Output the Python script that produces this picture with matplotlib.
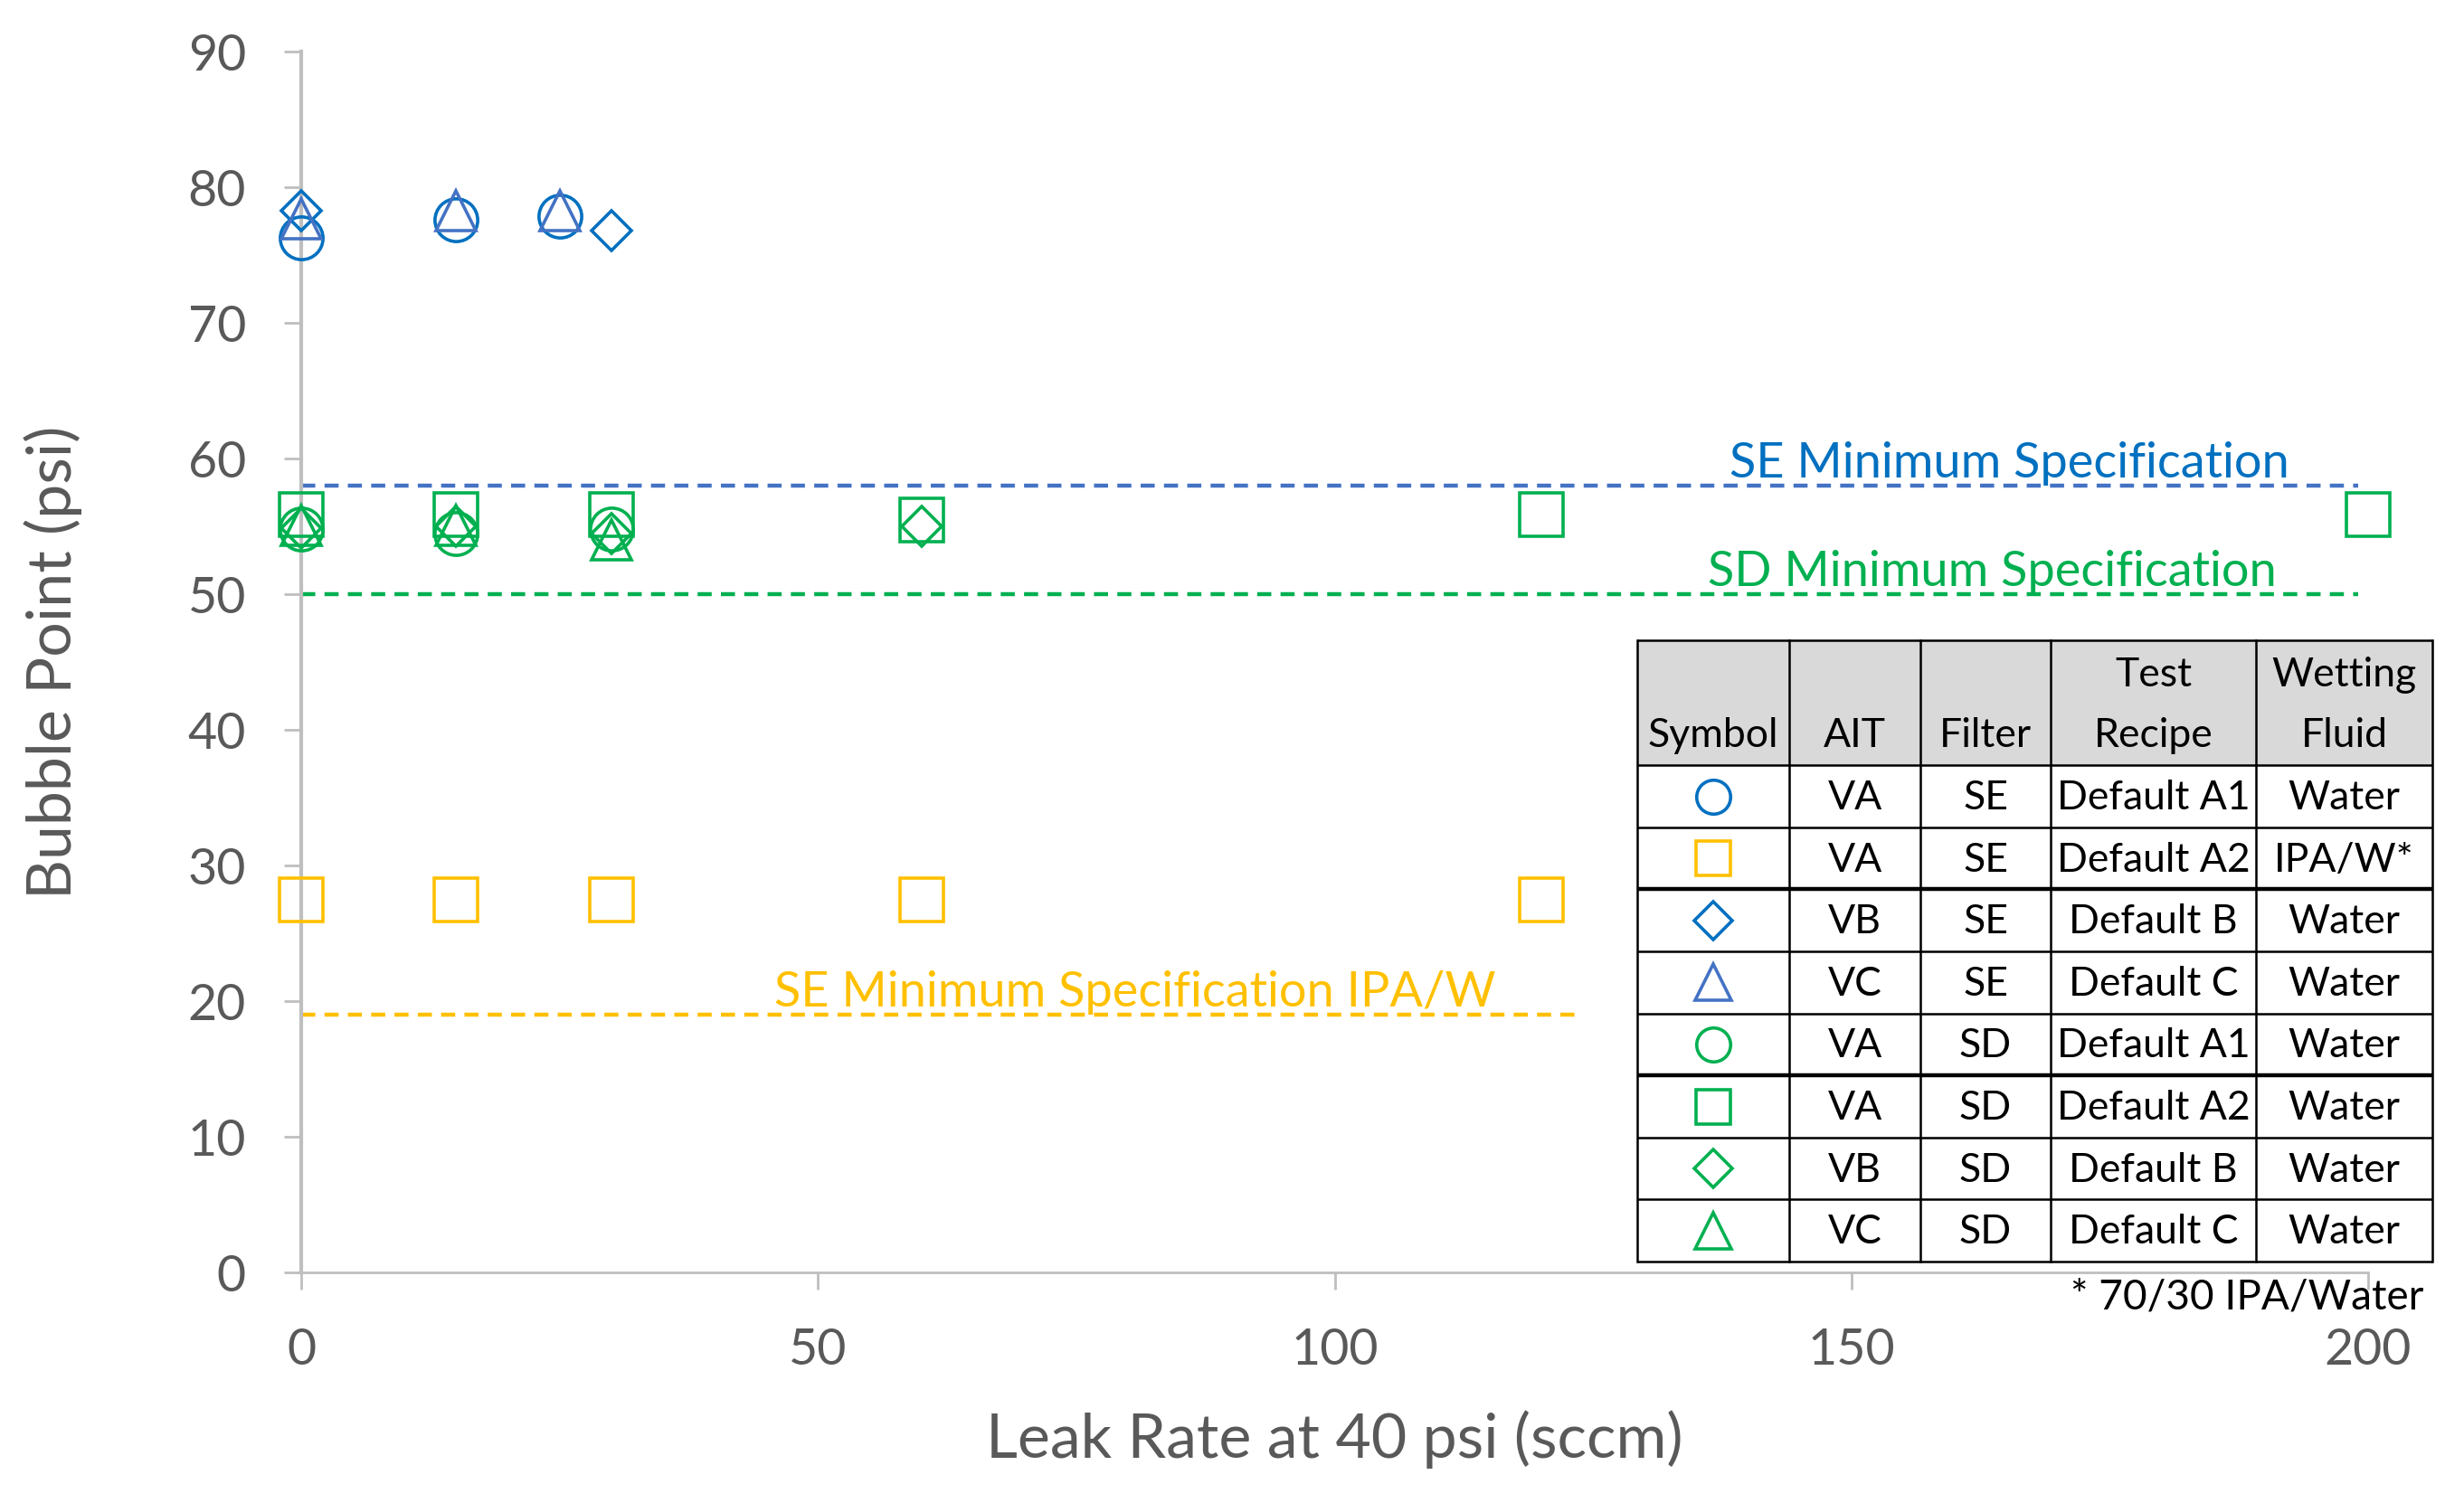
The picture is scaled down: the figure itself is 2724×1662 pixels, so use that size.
import matplotlib.pyplot as plt

plt.rcParams['font.family'] = ['Lato', 'DejaVu Sans']

# bubble point (psi) vs leak rate at 40 psi (sccm), one series per AIT / filter / recipe
se_a1_x = [0, 15, 25]
se_a1_y = [76.3, 77.6, 77.9]
se_a2_x = [0, 15, 30, 60, 120]
se_a2_y = [27.5, 27.5, 27.5, 27.5, 27.5]
se_b_x = [0, 30]
se_b_y = [78.3, 76.8]
se_c_x = [0, 15, 25]
se_c_y = [77.7, 78.3, 78.3]
sd_a1_x = [0, 15, 30]
sd_a1_y = [54.8, 54.5, 54.8]
sd_a2_x = [0, 15, 30, 60, 120, 200]
sd_a2_y = [55.9, 55.9, 55.9, 55.5, 55.9, 55.9]
sd_b_x = [0, 15, 30, 60]
sd_b_y = [54.9, 55.0, 54.5, 55.0]
sd_c_x = [0, 15, 30]
sd_c_y = [55.1, 55.1, 54.0]

# minimum specification lines
spec_labels = ['SE Minimum Specification', 'SD Minimum Specification',
               'SE Minimum Specification IPA/W']
spec_values = [58, 50, 19]
spec_x_end = [199, 199, 124]
spec_label_x = [165.3, 163.6, 80.7]

# legend table
table_header = ['Symbol', 'AIT', 'Filter', 'Test\nRecipe', 'Wetting\nFluid']
table_ait = ['VA', 'VA', 'VB', 'VC', 'VA', 'VA', 'VB', 'VC']
table_filter = ['SE', 'SE', 'SE', 'SE', 'SD', 'SD', 'SD', 'SD']
table_recipe = ['Default A1', 'Default A2', 'Default B', 'Default C',
                'Default A1', 'Default A2', 'Default B', 'Default C']
table_fluid = ['Water', 'IPA/W*', 'Water', 'Water', 'Water', 'Water', 'Water', 'Water']
footnote = '* 70/30 IPA/Water'

BLUE = '#0070C0'
BLUE2 = '#4472C4'
GREEN = '#00B050'
YELLOW = '#FFC000'
GREY = '#595959'
AXIS = '#BFBFBF'

series = [
    (se_a1_x, se_a1_y, 'o', BLUE),
    (se_a2_x, se_a2_y, 's', YELLOW),
    (se_b_x, se_b_y, 'D', BLUE),
    (se_c_x, se_c_y, '^', BLUE2),
    (sd_a1_x, sd_a1_y, 'o', GREEN),
    (sd_a2_x, sd_a2_y, 's', GREEN),
    (sd_b_x, sd_b_y, 'D', GREEN),
    (sd_c_x, sd_c_y, '^', GREEN),
]
plot_ms = {'o': 34, 's': 34, 'D': 22.5, '^': 32}
table_ms = {'o': 27, 's': 28, 'D': 21, '^': 29}
spec_colors = [BLUE2, GREEN, YELLOW]
spec_text_colors = [BLUE, GREEN, YELLOW]

fig = plt.figure(figsize=(27.24, 16.62), dpi=100)
W, H = 2724, 1662
ax = fig.add_axes([333 / W, 1 - 1407 / H, 2285 / W, 1350 / H])

for xs, ys, mk, col in series:
    ax.plot(xs, ys, linestyle='none', marker=mk, ms=plot_ms[mk], mfc='none',
            mec=col, mew=2.6, clip_on=False, zorder=3)

for val, xe, lab, lx, lc, tc in zip(spec_values, spec_x_end, spec_labels,
                                     spec_label_x, spec_colors, spec_text_colors):
    ax.plot([0, xe], [val, val], color=lc, lw=3.2, dashes=(3.5, 2.3), zorder=2)
    ax.text(lx, val + 0.6, lab, color=tc, fontsize=39, ha='center', va='baseline')

ax.set_xlim(0, 200)
ax.set_ylim(0, 90)
ax.set_xticks(range(0, 201, 50))
ax.set_yticks(range(0, 91, 10))
for s in ['top', 'right']:
    ax.spines[s].set_visible(False)
ax.spines['left'].set_color(AXIS)
ax.spines['left'].set_linewidth(3)
ax.spines['bottom'].set_color(AXIS)
ax.spines['bottom'].set_linewidth(2)
ax.tick_params(axis='y', length=14, width=2, color=AXIS, labelsize=40,
               labelcolor=GREY, pad=30)
ax.tick_params(axis='x', length=14, width=2, color=AXIS, labelsize=40,
               labelcolor=GREY, pad=30)
ax.set_xlabel('Leak Rate at 40 psi (sccm)', fontsize=49, color=GREY)
ax.set_ylabel('Bubble Point (psi)', fontsize=49, color=GREY)
ax.xaxis.set_label_coords(0.5, -0.113)
ax.yaxis.set_label_coords(-0.106, 0.5)

# table drawn in its own axes, in pixel-like units
col_w = [168, 145, 144, 227, 195]
head_h = 138
row_h = 68.6
tw = sum(col_w)
th = head_h + row_h * len(table_ait)
tax = fig.add_axes([1810 / W, 1 - 1395 / H, tw / W, th / H], zorder=5)
tax.set_xlim(0, tw)
tax.set_ylim(th, 0)
tax.set_xticks([])
tax.set_yticks([])
for s in tax.spines.values():
    s.set_visible(False)
tax.set_facecolor('white')
tax.fill_between([0, tw], 0, head_h, color='#D9D9D9', lw=0)

col_edges = [0]
for w in col_w:
    col_edges.append(col_edges[-1] + w)
col_mid = [(a + b) / 2 for a, b in zip(col_edges[:-1], col_edges[1:])]
row_edges = [0, head_h] + [head_h + row_h * (i + 1) for i in range(len(table_ait))]

for i, y in enumerate(row_edges):
    lw = 3.2 if i in (3, 6) else 1.8
    tax.plot([0, tw], [y, y], color='black', lw=lw, solid_capstyle='butt', clip_on=False)
for x in col_edges:
    tax.plot([x, x], [0, th], color='black', lw=1.8, clip_on=False)

for j, h in enumerate(table_header):
    lines = h.split('\n')
    if len(lines) == 1:
        lines = ['', lines[0]]
    tax.text(col_mid[j], 38, lines[0], ha='center', va='center', fontsize=32)
    tax.text(col_mid[j], 105, lines[1], ha='center', va='center', fontsize=32)

for i in range(len(table_ait)):
    yc = head_h + row_h * (i + 0.5)
    _, _, mk, col = series[i]
    tax.plot(col_mid[0], yc, marker=mk, ms=table_ms[mk], mfc='none', mec=col, mew=2.6)
    for j, txt in enumerate([table_ait[i], table_filter[i], table_recipe[i], table_fluid[i]]):
        tax.text(col_mid[j + 1], yc + 2, txt, ha='center', va='center', fontsize=32)

fig.text(2679 / W, 1 - 1448 / H, footnote, ha='right', va='baseline', fontsize=33)

fig.savefig('out.png', dpi=100, facecolor='white')
